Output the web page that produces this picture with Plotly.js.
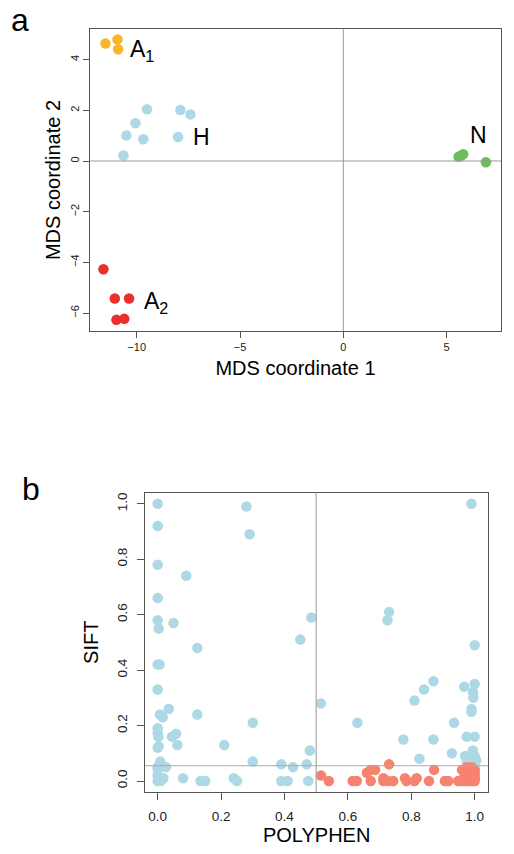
<!DOCTYPE html>
<html><head><meta charset="utf-8">
<script src="https://cdn.plot.ly/plotly-3.0.1.min.js"></script>
<style>html,body{margin:0;padding:0;background:#fff}#chart{width:514px;height:854px}</style>
</head><body><div id="chart"></div>
<script>
// Panel a: MDS coordinates by group
const a1X = [-11.51, -10.93, -10.90];
const a1Y = [4.64, 4.80, 4.41];
const hX = [-9.50, -7.89, -7.40, -10.06, -10.50, -9.68, -8.00, -10.64];
const hY = [2.04, 2.01, 1.84, 1.49, 1.01, 0.86, 0.95, 0.22];
const nX = [5.58, 5.70, 5.80, 6.90];
const nY = [0.17, 0.22, 0.27, -0.05];
const a2X = [-11.61, -11.06, -10.37, -10.98, -10.60];
const a2Y = [-4.27, -5.43, -5.43, -6.27, -6.23];
const aXTicks = [-10, -5, 0, 5];
const aYTicks = [-6, -4, -2, 0, 2, 4];

// Panel b: POLYPHEN vs SIFT
const tolPolyphen = [0,0,0.28,0.29,0,0.09,0,0,0.003,0.05,0.485,0.45,0.125,0,0.006,0,0.035,0.007,0.016,0.125,0.30,0,0,0.002,0.045,0.058,0.062,0,0.003,0.21,0.48,0.515,0.008,0.30,0.026,0.39,0.427,0.47,0,0,0,0.008,0.018,0,0.01,0.08,0.135,0.15,0.24,0.25,0.39,0.41,0.475,0.99,0.73,0.725,1.0,0.87,0.84,0.81,0.967,1.0,0.995,0.996,0.99,0.99,0.63,0.935,0.775,0.87,0.975,1.0,0.826,0.928,0.994,0.97,0.98,0.99,1.0,0.975,0.99,1.0,0.985,1.0,1.005];
const tolSift = [1.00,0.92,0.99,0.89,0.78,0.74,0.66,0.58,0.55,0.57,0.59,0.51,0.48,0.42,0.42,0.33,0.26,0.24,0.23,0.24,0.21,0.19,0.175,0.16,0.16,0.17,0.13,0.12,0.125,0.13,0.11,0.28,0.07,0.07,0.05,0.06,0.05,0.06,0.05,0.04,0.02,0.01,0.01,0.0,0.0,0.01,0.0,0.0,0.01,0.0,0.0,0.0,0.0,1.0,0.61,0.58,0.49,0.36,0.33,0.29,0.34,0.35,0.32,0.30,0.26,0.25,0.21,0.21,0.15,0.15,0.16,0.16,0.08,0.10,0.11,0.09,0.08,0.09,0.09,0.07,0.07,0.065,0.06,0.055,0.075];
const delPolyphen = [0.515,0.54,0.615,0.628,0.66,0.672,0.686,0.672,0.712,0.712,0.727,0.743,0.73,0.78,0.785,0.81,0.817,0.856,0.872,0.906,0.917,0.948,0.96,0.97,0.98,0.99,1.0,0.965,0.975,0.985,0.995,1.0,0.97,0.98,0.99,1.0,0.975,0.99,1.0,0.96,1.0,0.985];
const delSift = [0.02,0.0,0.0,0.0,0.03,0.04,0.04,0.0,0.01,0.0,0.0,0.0,0.06,0.01,0.0,0.0,0.01,0.0,0.04,0.0,0.0,0.0,0.0,0.0,0.0,0.0,0.0,0.01,0.02,0.01,0.02,0.01,0.03,0.04,0.03,0.04,0.05,0.05,0.03,0.04,0.02,0.035];
const bTicks = [0, 0.2, 0.4, 0.6, 0.8, 1.0];
const bTickText = ['0.0','0.2','0.4','0.6','0.8','1.0'];

const FONT = 'Liberation Sans, Arial, sans-serif';
const W = 514, H = 854;
function mk(x, y, color, xa, ya) {
  return {type:'scatter', mode:'markers', x:x, y:y, xaxis:xa, yaxis:ya,
    marker:{color:color, size:10.5, line:{width:0}}, hoverinfo:'skip', showlegend:false};
}
const traces = [
  mk(a1X, a1Y, '#FBB524', 'x', 'y'),
  mk(hX, hY, '#ADD8E6', 'x', 'y'),
  mk(nX, nY, '#6DBE5B', 'x', 'y'),
  mk(a2X, a2Y, '#EC2E2E', 'x', 'y'),
  mk(tolPolyphen, tolSift, '#ADD8E6', 'x2', 'y2'),
  mk(delPolyphen, delSift, '#F7836F', 'x2', 'y2')
];
const axBase = {showgrid:false, zeroline:false, showline:true, mirror:true, linecolor:'#555', linewidth:1,
  ticks:'outside', ticklen:6, tickcolor:'#555', tickwidth:1,
  tickfont:{family:FONT, size:11, color:'#222'}, tickmode:'array'};
const minus = v => v < 0 ? '\u2212' + Math.abs(v) : String(v);
const layout = {
  width:W, height:H, margin:{l:0,r:0,t:0,b:0}, paper_bgcolor:'#fff', plot_bgcolor:'#fff',
  font:{family:FONT, color:'#000'},
  xaxis: Object.assign({}, axBase, {domain:[90/W, 501/W], range:[-12.26, 7.63], tickvals:aXTicks,
    ticktext:aXTicks.map(minus),
    title:{text:'MDS coordinate 1', font:{family:FONT, size:20}, standoff:8}, anchor:'y'}),
  yaxis: Object.assign({}, axBase, {domain:[1-331/H, 1-29/H], range:[-6.71, 5.21], tickvals:aYTicks,
    ticktext:aYTicks.map(minus), tickangle:-90,
    title:{text:'MDS coordinate 2', font:{family:FONT, size:20}, standoff:2}, anchor:'x'}),
  xaxis2: Object.assign({}, axBase, {domain:[145/W, 488.3/W], range:[-0.040, 1.043], tickvals:bTicks, ticktext:bTickText,
    ticklen:7, ticklabelstandoff:5, tickfont:{family:FONT, size:13.5, color:'#222'},
    title:{text:'POLYPHEN', font:{family:FONT, size:20}, standoff:4}, anchor:'y2'}),
  yaxis2: Object.assign({}, axBase, {domain:[1-791.7/H, 1-492.7/H], range:[-0.0386, 1.040], tickvals:bTicks, ticktext:bTickText, tickangle:-90,
    ticklen:7, ticklabelstandoff:5, tickfont:{family:FONT, size:13.5, color:'#222'},
    title:{text:'SIFT', font:{family:FONT, size:20}, standoff:10}, anchor:'x2'}),
  shapes: [
    {type:'line', xref:'x', yref:'y domain', x0:0, x1:0, y0:0, y1:1, line:{color:'#999', width:1}},
    {type:'line', xref:'x domain', yref:'y', x0:0, x1:1, y0:0, y1:0, line:{color:'#999', width:1}},
    {type:'line', xref:'x2', yref:'y2 domain', x0:0.5, x1:0.5, y0:0, y1:1, line:{color:'#aaa', width:1.2}},
    {type:'line', xref:'x2 domain', yref:'y2', x0:0, x1:1, y0:0.055, y1:0.055, line:{color:'#aaa', width:1.2}}
  ],
  annotations: [
    {text:'a', xref:'paper', yref:'paper', x:20/W, y:1-20/H, showarrow:false, font:{family:FONT, size:32}, xanchor:'center', yanchor:'middle'},
    {text:'b', xref:'paper', yref:'paper', x:31/W, y:1-489/H, showarrow:false, font:{family:FONT, size:32}, xanchor:'center', yanchor:'middle'},
    {text:'A<sub>1</sub>', xref:'x', yref:'y', x:-9.75, y:4.35, showarrow:false, font:{family:FONT, size:23}},
    {text:'H', xref:'x', yref:'y', x:-6.85, y:0.95, showarrow:false, font:{family:FONT, size:23}},
    {text:'N', xref:'x', yref:'y', x:6.55, y:1.02, showarrow:false, font:{family:FONT, size:23}},
    {text:'A<sub>2</sub>', xref:'x', yref:'y', x:-9.05, y:-5.6, showarrow:false, font:{family:FONT, size:23}}
  ]
};
Plotly.newPlot('chart', traces, layout, {staticPlot:true, displayModeBar:false});
</script></body></html>
